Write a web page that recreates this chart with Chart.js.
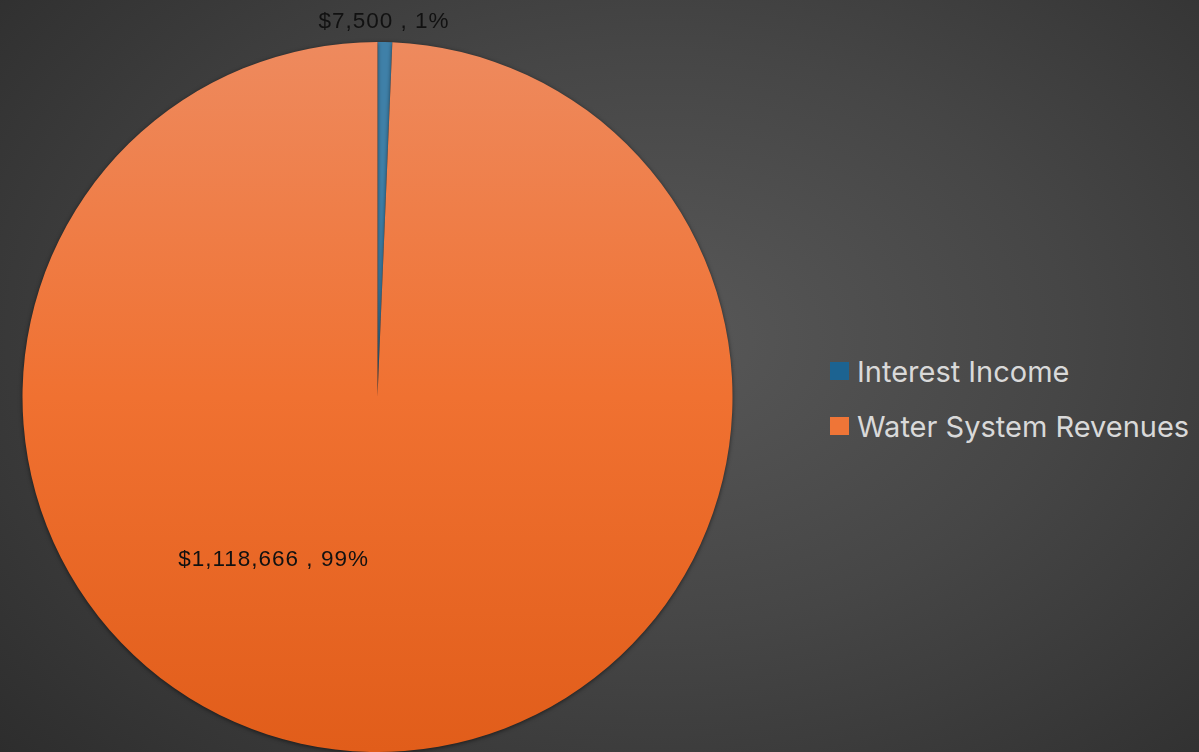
<!DOCTYPE html>
<html>
<head>
<meta charset="utf-8">
<script src="https://cdn.jsdelivr.net/npm/chart.js@4.4.1/dist/chart.umd.min.js"></script>
<style>
  html, body { margin: 0; padding: 0; }
  body {
    width: 1199px; height: 752px; overflow: hidden; position: relative;
    background: radial-gradient(ellipse 75% 85% at 55% 45%, #585858 0%, #464646 45%, #2c2c2c 100%);
    font-family: Inter, "Open Sans", sans-serif;
  }
  #wrap { position: absolute; left: 0; top: 0; width: 760px; height: 752px; }
  #legend { position: absolute; left: 830px; top: 352px; color: #d9d9d9; font-size: 29px; }
  .legend-row { display: flex; align-items: center; height: 38px; margin-bottom: 17px; white-space: nowrap; }
  .legend-box { width: 19px; height: 18px; margin-right: 8px; }
</style>
</head>
<body>
<div id="wrap"><canvas id="revenuePie"></canvas></div>
<div id="legend"></div>
<script>
const categories = ['Interest Income', 'Water System Revenues'];
const amounts = [7500, 1118666];
const legendColors = ['#1c6391', '#ef7537'];

// gradients per slice: [top, bottom]
const sliceStops = [
    ['#3f80a8', '#21618c'],
    ['#ee8a5e', '#e15d1a']
];

// where each value label sits: angle clockwise from 12 o'clock (deg) and distance in radii
const labelSpots = [
    { angle: 1.0, dist: 1.056 },
    { angle: 212.5, dist: 0.545 }
];

const total = amounts.reduce((a, b) => a + b, 0);

function sliceFill(ctx) {
    const chart = ctx.chart;
    const area = chart.chartArea;
    if (!area) return sliceStops[ctx.dataIndex][1];
    const g = chart.ctx.createLinearGradient(0, area.top, 0, area.bottom);
    g.addColorStop(0, sliceStops[ctx.dataIndex][0]);
    g.addColorStop(0.5, ctx.dataIndex === 1 ? '#f07131' : sliceStops[ctx.dataIndex][0]);
    g.addColorStop(1, sliceStops[ctx.dataIndex][1]);
    return g;
}

const valueLabels = {
    id: 'valueLabels',
    afterDatasetsDraw(chart) {
        const ctx = chart.ctx;
        const meta = chart.getDatasetMeta(0);
        ctx.save();
        ctx.font = '22.5px "Liberation Sans", Arial, sans-serif';
        ctx.letterSpacing = '1px';
        ctx.fillStyle = '#111111';
        ctx.textAlign = 'center';
        ctx.textBaseline = 'middle';
        meta.data.forEach((arc, i) => {
            const spot = labelSpots[i];
            const a = spot.angle * Math.PI / 180;
            const x = arc.x + Math.sin(a) * arc.outerRadius * spot.dist;
            const y = arc.y - Math.cos(a) * arc.outerRadius * spot.dist;
            const pct = Math.round(amounts[i] / total * 100);
            ctx.fillText('$' + amounts[i].toLocaleString('en-US') + ' , ' + pct + '%', x, y);
        });
        ctx.restore();
    }
};

const pieShadow = {
    id: 'pieShadow',
    beforeDatasetsDraw(chart) {
        const ctx = chart.ctx;
        ctx.save();
        ctx.shadowColor = 'rgba(0,0,0,0.55)';
        ctx.shadowBlur = 4;
        ctx.shadowOffsetX = 0;
        ctx.shadowOffsetY = 1;
    },
    afterDatasetsDraw(chart) {
        chart.ctx.restore();
    }
};

new Chart(document.getElementById('revenuePie'), {
    type: 'pie',
    data: {
        labels: categories,
        datasets: [{
            data: amounts,
            backgroundColor: sliceFill,
            borderWidth: 0
        }]
    },
    options: {
        responsive: true,
        maintainAspectRatio: false,
        animation: false,
        events: [],
        layout: { padding: { left: 22, right: 27, top: 42, bottom: 0 } },
        plugins: { legend: { display: false }, tooltip: { enabled: false } }
    },
    plugins: [pieShadow, valueLabels]
});

document.getElementById('legend').innerHTML = categories.map((c, i) =>
    `<div class="legend-row"><div class="legend-box" style="background:${legendColors[i]}"></div><span>${c}</span></div>`
).join('');
</script>
</body>
</html>
